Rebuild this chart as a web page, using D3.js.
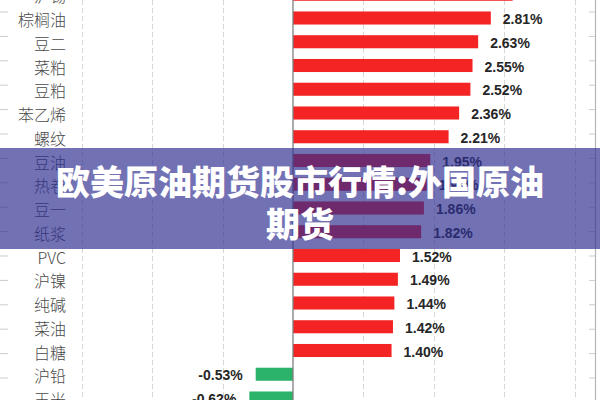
<!DOCTYPE html>
<html><head><meta charset="utf-8">
<script src="https://cdn.jsdelivr.net/npm/d3@7/dist/d3.min.js"></script>
<style>html,body{margin:0;padding:0;background:#fff;overflow:hidden}</style>
</head><body>
<script>
const categories = ["沪锡","棕榈油","豆二","菜粕","豆粕","苯乙烯","螺纹","豆油","热卷","豆一","纸浆","PVC","沪镍","纯碱","菜油","白糖","沪铅","玉米"];
const values = [3.12,2.81,2.63,2.55,2.52,2.36,2.21,1.95,1.90,1.86,1.82,1.52,1.49,1.44,1.42,1.40,-0.53,-0.62];
const xTicks = [-3,-2,-1,0,1,2,3,4];
const titleLines = ["欧美原油期货股市行情:外国原油","期货"];

const W=600,H=400;
const svg=d3.select("body").append("svg").attr("width",W).attr("height",H);
svg.append("rect").attr("width",W).attr("height",H).attr("fill","#fff");

const x=d3.scaleLinear().domain([-3,4]).range([81.8,574.6]);
const step=23.75;
const y=d3.scaleBand().domain(categories).range([-5.75-step/2,-5.75-step/2+step*categories.length]).paddingInner(0.45).paddingOuter(0.225);

// frame ticks (edge decoration)
const edge=d3.scaleLinear().domain([0,15]).range([12,378]);
const edgeG=svg.append("g");
edgeG.selectAll(".lt").data(d3.range(16)).join("line")
  .attr("x1",0).attr("x2",8).attr("y1",d=>edge(d)).attr("y2",d=>edge(d))
  .attr("stroke","#ccc").attr("stroke-width",1);
edgeG.selectAll(".rt").data(d3.range(16)).join("line")
  .attr("x1",589).attr("x2",595).attr("y1",d=>edge(d)).attr("y2",d=>edge(d))
  .attr("stroke","#ccc").attr("stroke-width",1);
edgeG.append("line").attr("x1",595.5).attr("x2",595.5).attr("y1",0).attr("y2",H)
  .attr("stroke","#b5b5b5").attr("stroke-width",1.2);

// gridlines
svg.append("g").selectAll("line").data(xTicks.filter(d=>d!==0)).join("line")
  .attr("x1",d=>Math.round(x(d))+0.5).attr("x2",d=>Math.round(x(d))+0.5)
  .attr("y1",0).attr("y2",H)
  .attr("stroke","#d6d6d6").attr("stroke-dasharray","5,3").attr("stroke-width",1);

// bars
svg.append("g").selectAll("rect").data(categories).join("rect")
  .attr("x",(d,i)=>x(Math.min(0,values[i])))
  .attr("width",(d,i)=>Math.abs(x(values[i])-x(0)))
  .attr("y",d=>y(d)).attr("height",y.bandwidth())
  .attr("fill",(d,i)=>values[i]>=0?"#f42424":"#2bb36a");

// zero axis
svg.append("line").attr("x1",x(0)).attr("x2",x(0)).attr("y1",0).attr("y2",H)
  .attr("stroke","#7f7f7f").attr("stroke-width",1.3);

// category labels
svg.append("g").selectAll("text").data(categories).join("text")
  .attr("x",66).attr("y",d=>y(d)+y.bandwidth()/2+1)
  .attr("text-anchor","end").attr("dominant-baseline","central")
  .attr("font-family","'Noto Sans CJK SC','Noto Sans',sans-serif")
  .attr("font-weight",300)
  .attr("font-size",16).attr("fill","#4a4a4a")
  .text(d=>d);

// value labels
svg.append("g").selectAll("text").data(categories).join("text")
  .attr("x",(d,i)=>values[i]>=0?x(values[i])+12:x(values[i])-13)
  .attr("y",d=>y(d)+y.bandwidth()/2+1)
  .attr("text-anchor",(d,i)=>values[i]>=0?"start":"end")
  .attr("dominant-baseline","central")
  .attr("font-family","'Liberation Sans',Arial,sans-serif")
  .attr("font-weight","bold").attr("font-size",14).attr("fill","#262626")
  .text((d,i)=>values[i].toFixed(2)+"%");

// overlay banner
svg.append("rect").attr("x",0).attr("y",148).attr("width",W).attr("height",101)
  .attr("fill","rgb(45,45,145)").attr("fill-opacity",0.68);

svg.append("g").selectAll("text").data(titleLines).join("text")
  .attr("x",W/2).attr("y",(d,i)=>180+i*42)
  .attr("text-anchor","middle").attr("dominant-baseline","central")
  .attr("font-family","'Noto Sans CJK SC',sans-serif")
  .attr("font-weight",900).attr("font-size",34).attr("fill","#fff")
  .text(d=>d);
</script>
</body></html>
